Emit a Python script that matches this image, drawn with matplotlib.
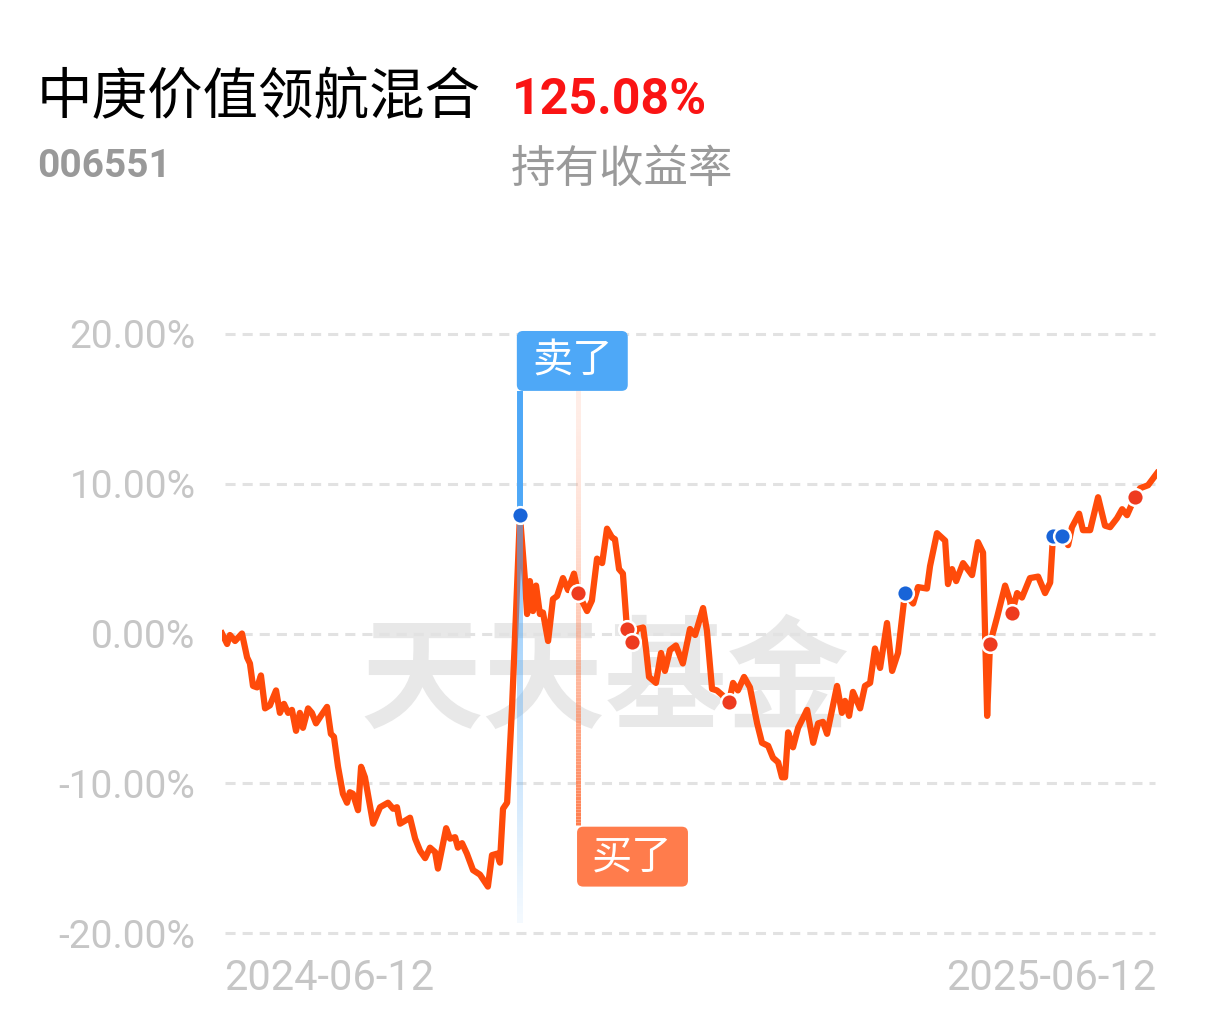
import numpy as np
import matplotlib
matplotlib.use('Agg')
import matplotlib.pyplot as plt
import matplotlib.colors as mcolors
from matplotlib import font_manager
from matplotlib.collections import LineCollection
from matplotlib.patches import FancyBboxPatch

plt.rcParams['font.family'] = ['Noto Sans CJK SC', 'DejaVu Sans']

fundName = '中庚价值领航混合'
fundCode = '006551'
holdReturn = '125.08%'
holdLabel = '持有收益率'
watermark = '天天基金'

# days since 2024-06-12 and holding return (%)
days = [0.0, 2.0, 3.1, 5.1, 7.8, 9.8, 10.9, 12.1, 13.7, 15.2, 16.8, 18.7, 21.1, 22.6,
        24.2, 25.8, 27.3, 28.9, 30.4, 31.6, 33.6, 35.1, 36.7, 38.6, 41.0, 42.5, 43.7,
        45.3, 47.2, 48.8, 49.9, 51.1, 53.1, 54.3, 55.8, 59.0, 61.7, 64.8, 66.8, 68.3,
        69.5, 71.5, 73.4, 75.4, 77.3, 79.3, 81.2, 83.2, 84.3, 87.5, 89.0, 91.0, 92.1,
        93.7, 95.6, 98.0, 100.7, 103.8, 105.4, 107.4, 108.5, 109.7, 111.3, 113.2, 114.8,
        116.3, 118.3, 119.1, 120.2, 121.4, 122.6, 124.1, 125.3, 127.3, 129.2, 130.8,
        133.1, 135.1, 137.4, 139.0, 142.5, 144.4, 146.4, 148.4, 150.3, 152.3, 153.4,
        155.0, 156.5, 158.1, 160.1, 162.0, 164.4, 165.5, 166.7, 169.4, 171.4, 172.9,
        174.9, 177.2, 179.9, 182.7, 184.7, 187.8, 189.3, 191.3, 193.2, 195.2, 197.9,
        199.5, 201.4, 203.8, 206.1, 208.9, 210.8, 213.2, 215.1, 217.1, 218.6, 219.8,
        221.0, 222.9, 224.9, 228.4, 230.8, 232.7, 234.6, 236.2, 240.1, 242.0, 243.2,
        244.8, 246.3, 249.1, 251.0, 253.0, 254.9, 256.9, 259.6, 261.6, 263.9, 266.6,
        269.8, 271.7, 275.2, 276.4, 279.1, 282.3, 283.4, 285.0, 286.6, 289.3, 292.8,
        295.1, 297.1, 298.7, 299.8, 302.6, 305.7, 307.6, 308.4, 310.4, 312.3, 315.4,
        318.6, 321.3, 323.3, 324.4, 327.9, 330.3, 331.8, 334.6, 336.1, 338.9, 342.0,
        344.7, 346.7, 349.4, 351.4, 353.3, 356.4, 358.4, 361.5, 365.0]
ret = [0.0, -0.7, -0.1, -0.5, 0.0, -1.6, -2.0, -3.5, -3.6, -2.8, -5.0, -4.8, -3.8, -5.3,
       -4.7, -5.3, -5.1, -6.5, -5.3, -6.3, -5.0, -5.3, -6.0, -5.5, -4.9, -6.7, -6.9,
       -8.9, -10.7, -11.3, -10.6, -10.7, -11.8, -8.9, -9.6, -12.7, -11.6, -11.3, -11.7, -11.6,
       -12.7, -12.5, -12.3, -13.7, -14.5, -15.0, -14.3, -14.6, -15.7, -13.0, -13.7, -13.6, -14.3,
       -14.0, -14.7, -15.8, -16.1, -16.9, -14.8, -14.7, -15.3, -11.7, -11.3, -5.0, 1.5,
       7.9, 3.5, 1.3, 3.5, 1.5, 3.2, 1.3, 1.4, -0.5, 2.3, 2.5,
       3.7, 2.9, 4.0, 2.7, 1.5, 2.2, 5.0, 4.7, 7.0, 6.4, 6.3,
       4.3, 4.0, 0.3, -0.6, 0.3, 0.4, -1.0, -2.9, -3.3, -1.3, -2.5,
       -1.1, -0.8, -2.0, 0.3, -0.1, 1.7, 0.2, -3.7, -3.8, -4.1, -4.6,
       -3.3, -3.8, -2.9, -3.6, -6.0, -7.3, -7.5, -8.3, -8.6, -9.6, -9.6,
       -6.6, -7.6, -6.3, -5.1, -7.3, -6.0, -5.9, -6.7, -3.5, -5.3, -4.5,
       -5.5, -3.9, -5.0, -3.5, -3.3, -1.0, -2.3, 0.7, -2.5, -1.3, 2.7,
       2.0, 3.1, 3.0, 4.5, 6.7, 6.2, 3.3, 4.3, 3.5, 4.7, 3.9,
       6.1, 5.4, -5.5, -0.7, 1.1, 3.2, 2.2, 1.4, 2.7, 2.4, 3.7,
       3.8, 2.7, 3.4, 6.5, 6.5, 5.9, 7.1, 8.0, 6.9, 6.9, 9.1,
       7.2, 7.1, 7.7, 8.3, 7.9, 9.1, 9.7, 9.9, 10.7]

sellDays = [116.3, 266.6, 324.4, 327.9]
buyDays = [139.0, 158.1, 160.1, 197.9, 299.8, 308.4, 356.4]
sellFlagDay = 116.3
buyFlagDay = 139.0

yTicks = [20, 10, 0, -10, -20]
yTickLabels = ['20.00%', '10.00%', '0.00%', '-10.00%', '-20.00%']
xLabels = ['2024-06-12', '2025-06-12']

lineColor = '#FF4B0A'
sellColor = '#4EA8F7'
buyColor = '#FF7C4C'
gray = '#C6C6C6'


def fadeLine(ax, x, yTop, yBottom, color, alphaTop, alphaBottom, lw, power=1.0, zorder=2):
    n = 150
    ys = np.linspace(yTop, yBottom, n + 1)
    segs = [[(x, ys[i]), (x, ys[i + 1])] for i in range(n)]
    t = np.linspace(0, 1, n)
    rgba = np.tile(mcolors.to_rgba(color), (n, 1))
    rgba[:, 3] = alphaTop + (alphaBottom - alphaTop) * t ** power
    lc = LineCollection(segs, colors=rgba, linewidths=lw, capstyle='butt', zorder=zorder)
    ax.add_collection(lc)


def flagBox(ax, left, bottom, text, color):
    w, h = 43.3, 4.0
    box = FancyBboxPatch((left, bottom), w, h, boxstyle='round,pad=0,rounding_size=2.4',
                         mutation_aspect=0.17, fc=color, ec='none', zorder=6, clip_on=False)
    ax.add_patch(box)
    ax.text(left + w / 2, bottom + h / 2, text, color='white', fontsize=29,
            ha='center', va='center', zorder=7)


available = {f.name for f in font_manager.fontManager.ttflist}
if 'Liberation Sans Narrow' in available:
    numFont, retSize, codeSize = 'Liberation Sans Narrow', 41, 34
else:
    numFont, retSize, codeSize = 'Roboto', 36, 28

fig = plt.figure(figsize=(12.11, 10.22), dpi=100)
ax = fig.add_axes([222 / 1211, 74 / 1022, 935 / 1211, 629 / 1022])
ax.set_xlim(0, 365)
ax.set_ylim(-21, 21)
for s in ax.spines.values():
    s.set_visible(False)
ax.set_xticks([])
ax.set_yticks(yTicks, yTickLabels, fontfamily='Roboto', fontsize=28, color=gray)
ax.tick_params(axis='y', length=0, pad=19)

for yv in yTicks:
    ax.axhline(yv, xmin=0.003, xmax=0.998, color='#E2E2E2', lw=2.2,
               dashes=(3.3, 2.3), zorder=1)

ax.text(605 / 1211, 339 / 1022, watermark, transform=fig.transFigure, fontsize=88,
        fontweight='bold', color='#E8E8E8', ha='center', va='center', zorder=0.5)

# buy flag line, fades out towards top
fadeLine(ax, buyFlagDay, 19.2, -12.8, buyColor, 0.12, 1.0, 3.6, power=2.0, zorder=2)

ax.plot(days, ret, color=lineColor, lw=4.5, solid_joinstyle='round', zorder=3)

# sell flag line, solid above the point and fading below it
sellY = np.interp(sellFlagDay, days, ret)
fadeLine(ax, sellFlagDay, 16.2, sellY, sellColor, 1.0, 1.0, 4.3, zorder=4)
fadeLine(ax, sellFlagDay, sellY, -19.3, sellColor, 0.65, 0.06, 4.3, zorder=4)

ax.plot(sellDays, np.interp(sellDays, days, ret), 'o', ms=12, mfc='#1864D8',
        mec='white', mew=1.8, zorder=5)
ax.plot(buyDays, np.interp(buyDays, days, ret), 'o', ms=12, mfc='#EE3B1F',
        mec='white', mew=1.8, zorder=5)

flagBox(ax, sellFlagDay - 1.2, 16.2, '卖了', sellColor)
flagBox(ax, buyFlagDay - 0.4, -16.9, '买了', buyColor)

fig.text(224 / 1211, 44 / 1022, xLabels[0], fontfamily='Roboto', fontsize=30,
         color=gray, ha='left', va='center')
fig.text(1156 / 1211, 44 / 1022, xLabels[1], fontfamily='Roboto', fontsize=30,
         color=gray, ha='right', va='center')

fig.text(37 / 1211, 924 / 1022, fundName, fontsize=40, color='black', va='center')
fig.text(512 / 1211, 921 / 1022, holdReturn, fontfamily=numFont, fontsize=retSize,
         fontweight='bold', color='#FA1414', va='center')
fig.text(37 / 1211, 856 / 1022, fundCode, fontfamily=numFont, fontsize=codeSize,
         fontweight='bold', color='#999999', va='center')
fig.text(511 / 1211, 853 / 1022, holdLabel, fontsize=32, color='#9A9A9A', va='center')

fig.savefig('out.png', dpi=100)
